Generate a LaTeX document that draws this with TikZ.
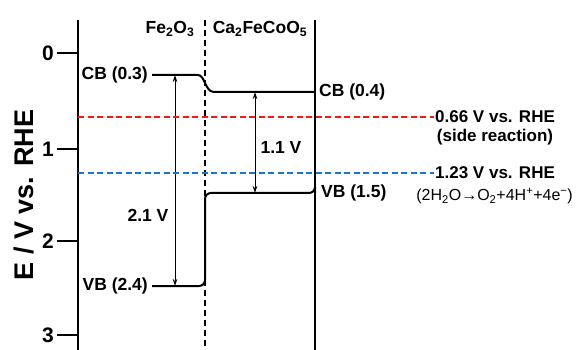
\documentclass[tikz,border=0pt]{standalone}
\usepackage{fontspec}
\setmainfont{Liberation Sans}
\usetikzlibrary{positioning,arrows.meta}
\definecolor{SideRed}{RGB}{255,20,20}
\definecolor{WaterBlue}{RGB}{20,120,210}

\begin{document}
\begin{tikzpicture}[
        x=1pt, y=-1pt,
        node distance=3pt,
        axisline/.style={line width=2.4pt, black},
        bandline/.style={line width=2pt, black, rounded corners=6pt},
        iface/.style={line width=1.6pt, black, dash pattern=on 6pt off 4pt},
        refline/.style={line width=1.8pt, dash pattern=on 6pt off 3.5pt},
        gaparrow/.style={{Stealth[length=7pt,width=4.5pt]}-{Stealth[length=7pt,width=4.5pt]}, line width=1pt},
        bandlabel/.style={font=\bfseries\fontsize{17.5}{19}\selectfont, inner sep=1pt},
        ticklabel/.style={font=\bfseries\fontsize{21}{23}\selectfont, inner sep=1pt},
        potlabel/.style={font=\bfseries\fontsize{17}{19}\selectfont, inner sep=1pt, align=center}
    ]
        \useasboundingbox (0,0) rectangle (576,350);

        % axis, interface and right edge
        \coordinate (axtop) at (78,20);
        \coordinate (axbot) at (78,350);
        \coordinate (iftop) at (205,20);
        \coordinate (ifbot) at (205,350);
        \coordinate (rtop) at (315,20);
        \coordinate (rbot) at (315,350);
        \draw[axisline] (axtop) -- (axbot);
        \draw[iface] (iftop) -- (ifbot);
        \draw[line width=2pt] (rtop) -- (rbot);

        \foreach \e/\y in {0/53,1/149,2/241,3/335} {
            \coordinate (tick\e) at (57,\y);
            \draw[axisline] (tick\e) -- (78,\y);
            \node[ticklabel, left=2pt of tick\e] (tl\e) {\e};
        }
        \node[font=\bfseries\fontsize{27}{30}\selectfont, rotate=90] (ylab) at (24,195) {E / V vs. RHE};

        \node[bandlabel] (fe) at (170,29) {Fe\textsubscript{2}O\textsubscript{3}};
        \node[bandlabel] (ca) at (260,29) {Ca\textsubscript{2}FeCoO\textsubscript{5}};

        % band edges
        \coordinate (cbfe) at (152,75);
        \coordinate (vbfe) at (152,286);
        \coordinate (cbca) at (315,92);
        \coordinate (vbca) at (315,193);
        \node[bandlabel, left=of cbfe] (cbfelab) {CB (0.3)};
        \node[bandlabel, left=of vbfe] (vbfelab) {VB (2.4)};
        \node[bandlabel, right=of cbca] (cbcalab) {CB (0.4)};
        \node[bandlabel, right=5pt of vbca] (vbcalab) {VB (1.5)};

        \draw[line width=2pt] (cbfe) -- (198,75) .. controls (205,75) and (205,92) .. (214,92) -- (cbca);
        \draw[bandline] (vbfe) -- (205,286) -- (205,193) -- (cbca |- vbca) -- (vbca);

        % gaps
        \coordinate (gfetop) at (175,75);
        \coordinate (gfebot) at (175,286);
        \coordinate (gcatop) at (255,92);
        \coordinate (gcabot) at (255,193);
        \draw[gaparrow] (gfetop) -- (gfebot);
        \draw[gaparrow] (gcatop) -- (gcabot);
        \node[bandlabel] (gfe) at (148,215) {2.1 V};
        \node[bandlabel] (gca) at (281,147) {1.1 V};

        % reference potentials
        \coordinate (side) at (78,117);
        \coordinate (oer) at (78,173);
        \node[potlabel, anchor=west] (sidelab) at (434,117) {0.66 V vs. RHE};
        \node[potlabel, below=4pt of sidelab] (sidenote) {(side reaction)};
        \node[potlabel, anchor=west] (oerlab) at (434,173) {1.23 V vs. RHE};
        \node[font=\fontsize{16}{18}\selectfont, inner sep=1pt, anchor=east] (oernote) at (574,196)
            {(2H\textsubscript{2}O→O\textsubscript{2}+4H\textsuperscript{+}+4e\textsuperscript{−})};
        \draw[refline, SideRed] (side) -- (sidelab.west);
        \draw[refline, WaterBlue] (oer) -- (oerlab.west);
    \end{tikzpicture}
\end{document}
